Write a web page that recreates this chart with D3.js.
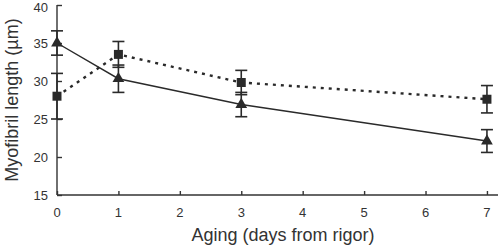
<!DOCTYPE html>
<html>
<head>
<meta charset="utf-8">
<script src="https://cdn.jsdelivr.net/npm/d3@7"></script>
<style>
  body { margin: 0; background: #fff; }
  text { font-family: "Liberation Sans", Arial, sans-serif; fill: #333; }
</style>
</head>
<body>
<div id="chart"></div>
<script>
// aging days
const days = [0, 1, 3, 7];
// square series (dotted line)
const squareMean = [28.0, 33.5, 29.8, 27.6];
const squareErr  = [3.0, 1.7, 1.6, 1.8];
// triangle series (solid line)
const triMean = [35.0, 30.3, 26.9, 22.1];
const triErr  = [1.6, 1.8, 1.6, 1.5];

const xTicks = [0, 1, 2, 3, 4, 5, 6, 7];
const yTicks = [15, 20, 25, 30, 35, 40];

const width = 500, height = 246;
const margin = {top: 5, right: 2, bottom: 51, left: 57};

const svg = d3.select("#chart").append("svg")
  .attr("width", width)
  .attr("height", height);

const x = d3.scaleLinear().domain([0, 7.18]).range([margin.left, width - margin.right]);
const y = d3.scaleLinear().domain([15, 40]).range([height - margin.bottom, margin.top]);

const ink = "#2a2a2a";

// axes, ticks pointing inwards
const xAxis = svg.append("g")
  .attr("transform", `translate(0,${y(15)})`)
  .call(d3.axisTop(x).tickValues(xTicks).tickSize(4).tickFormat(""));
xAxis.select(".domain").attr("d", `M${x(0)},0H${x(7.18)}`);

const yAxis = svg.append("g")
  .attr("transform", `translate(${x(0)},0)`)
  .call(d3.axisRight(y).tickValues(yTicks).tickSize(5).tickFormat(""));
yAxis.select(".domain").attr("d", `M0,${y(40)}V${y(15)}`);

svg.selectAll(".domain, .tick line").attr("stroke", "#333").attr("stroke-width", 1.4);

// tick labels
svg.selectAll(".xlab").data(xTicks).join("text")
  .attr("x", d => x(d)).attr("y", y(15) + 22)
  .attr("text-anchor", "middle").attr("font-size", 13)
  .text(d => d);

// top label kept just inside the picture
svg.selectAll(".ylab").data(yTicks).join("text")
  .attr("x", x(0) - 9).attr("y", d => Math.max(y(d) + 5, 12))
  .attr("text-anchor", "end").attr("font-size", 13)
  .text(d => d);

// axis titles
svg.append("text")
  .attr("x", 283).attr("y", 241)
  .attr("text-anchor", "middle").attr("font-size", 18)
  .text("Aging (days from rigor)");

svg.append("text")
  .attr("transform", `translate(18,${100}) rotate(-90)`)
  .attr("text-anchor", "middle").attr("font-size", 18)
  .text("Myofibril length (µm)");

function drawSeries(mean, err, dash, symbol) {
  const pts = days.map((d, i) => ({day: d, v: mean[i], e: err[i]}));

  svg.append("path").datum(pts)
    .attr("fill", "none").attr("stroke", ink)
    .attr("stroke-width", dash ? 2.4 : 1.4)
    .attr("stroke-dasharray", dash ? "3,5" : null)
    .attr("d", d3.line().x(d => x(d.day)).y(d => y(d.v)));

  const eb = svg.append("g").attr("stroke", ink).attr("stroke-width", 1.6);
  eb.selectAll(".v").data(pts).join("line")
    .attr("x1", d => x(d.day)).attr("x2", d => x(d.day))
    .attr("y1", d => y(d.v - d.e)).attr("y2", d => y(d.v + d.e));
  eb.selectAll(".lo").data(pts).join("line")
    .attr("x1", d => x(d.day) - 6).attr("x2", d => x(d.day) + 6)
    .attr("y1", d => y(d.v - d.e)).attr("y2", d => y(d.v - d.e));
  eb.selectAll(".hi").data(pts).join("line")
    .attr("x1", d => x(d.day) - 6).attr("x2", d => x(d.day) + 6)
    .attr("y1", d => y(d.v + d.e)).attr("y2", d => y(d.v + d.e));

  svg.append("g").selectAll("path").data(pts).join("path")
    .attr("fill", ink)
    .attr("transform", d => `translate(${x(d.day)},${y(d.v)})`)
    .attr("d", d3.symbol().type(symbol).size(symbol === d3.symbolSquare ? 81 : 60));
}

drawSeries(squareMean, squareErr, true, d3.symbolSquare);
drawSeries(triMean, triErr, false, d3.symbolTriangle);
</script>
</body>
</html>
